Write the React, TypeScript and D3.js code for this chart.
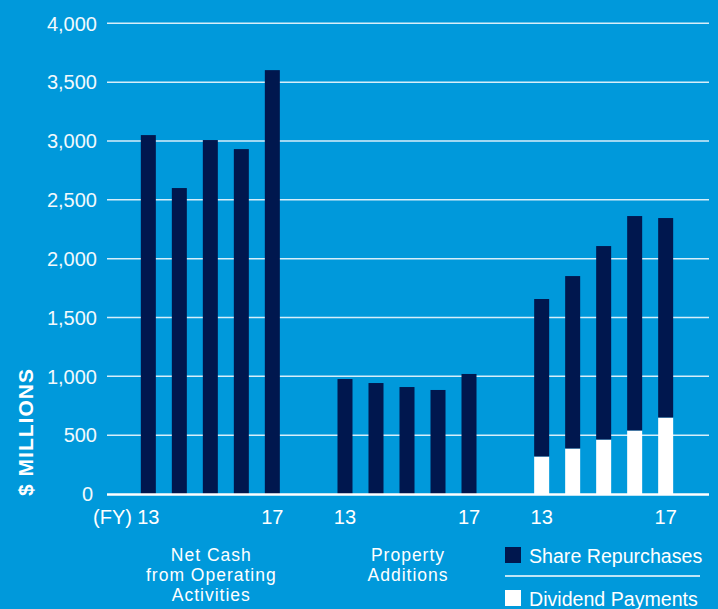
import React from 'react';
import { scaleBand, scaleLinear } from 'd3';

const groups = ['netCash', 'property', 'returns'];
const groupLabels = [['Net Cash', 'from Operating', 'Activities'], ['Property', 'Additions'], []];
const years = ['13', '14', '15', '16', '17'];
const netCash = [3050, 2600, 3008, 2931, 3602];
const propertyAdditions = [977, 943, 909, 884, 1020];
const dividendPayments = [319, 387, 463, 540, 650];
const shareRepurchases = [1338, 1465, 1644, 1822, 1695];
const yTicks = [0, 500, 1000, 1500, 2000, 2500, 3000, 3500, 4000];

const width = 718;
const height = 609;
const bg = '#0099db';
const dark = '#00174e';
const font = '"Liberation Sans", Arial, Helvetica, sans-serif';

const App = () => {
  const yScale = scaleLinear().domain([0, 4000]).range([494, 23.3]);

  const groupScale = scaleBand().domain(groups).range([112, 702]).padding(0);
  const yearScale = scaleBand()
    .domain(years)
    .range([0, groupScale.bandwidth()])
    .paddingInner(0.516)
    .paddingOuter(0.93);

  const bw = yearScale.bandwidth();
  const barX = (g: string, yr: string) => (groupScale(g) as number) + (yearScale(yr) as number);
  const barCx = (g: string, yr: string) => barX(g, yr) + bw / 2;

  const gridX1 = 107;
  const gridX2 = 709;

  return (
    <svg
      width={width}
      height={height}
      style={{ position: 'absolute', left: 0, top: 0, display: 'block' }}
      fontFamily={font}
    >
      <rect x={0} y={0} width={width} height={height} fill={bg} />

      {/* gridlines + y labels */}
      {yTicks.map(t => (
        <g key={t}>
          {t !== 0 && (
            <line x1={gridX1} x2={gridX2} y1={yScale(t)} y2={yScale(t)} stroke="#d6eefa" strokeWidth={1.5} />
          )}
          <text
            x={t === 0 ? 93 : 97}
            y={yScale(t)}
            dy="0.36em"
            textAnchor="end"
            fontSize={20}
            fill="#f2f9fd"
          >
            {t.toLocaleString('en-US')}
          </text>
        </g>
      ))}

      {/* net cash bars */}
      {years.map((yr, i) => (
        <rect key={'nc' + yr} x={barX('netCash', yr)} width={bw} y={yScale(netCash[i])}
          height={yScale(0) - yScale(netCash[i])} fill={dark} />
      ))}

      {/* property additions */}
      {years.map((yr, i) => (
        <rect key={'pa' + yr} x={barX('property', yr)} width={bw} y={yScale(propertyAdditions[i])}
          height={yScale(0) - yScale(propertyAdditions[i])} fill={dark} />
      ))}

      {/* stacked: dividends + repurchases */}
      {years.map((yr, i) => {
        const d = dividendPayments[i];
        const s = shareRepurchases[i];
        return (
          <g key={'rt' + yr}>
            <rect x={barX('returns', yr)} width={bw} y={yScale(d)} height={yScale(0) - yScale(d)} fill="#ffffff" />
            <rect x={barX('returns', yr)} width={bw} y={yScale(d + s)} height={yScale(d) - yScale(d + s)} fill={dark} />
          </g>
        );
      })}

      {/* baseline */}
      <line x1={gridX1} x2={gridX2} y1={yScale(0) + 0.5} y2={yScale(0) + 0.5} stroke="#ffffff" strokeWidth={2.5} />

      {/* x labels */}
      <text x={132} y={524} textAnchor="end" fontSize={20} fill="#ffffff">(FY)</text>
      {groups.map(g => (
        <g key={'xl' + g}>
          <text x={barCx(g, '13')} y={524} textAnchor="middle" fontSize={20} fill="#ffffff">13</text>
          <text x={barCx(g, '17')} y={524} textAnchor="middle" fontSize={20} fill="#ffffff">17</text>
        </g>
      ))}

      {/* group labels */}
      {groups.map((g, gi) =>
        groupLabels[gi].map((l, li) => (
          <text
            key={g + li}
            x={(groupScale(g) as number) + groupScale.bandwidth() / 2 + 1}
            y={560.5 + li * 20}
            textAnchor="middle"
            fontSize={17.5}
            letterSpacing={1}
            fill="#ffffff"
          >
            {l}
          </text>
        ))
      )}

      {/* y title */}
      <text
        transform="translate(33, 432) rotate(-90)"
        textAnchor="middle"
        fontSize={21}
        fontWeight="bold"
        letterSpacing={1}
        fill="#ffffff"
      >
        $ MILLIONS
      </text>

      {/* legend */}
      <rect x={505} y={547} width={16} height={16} fill={dark} />
      <text x={529} y={562.5} fontSize={19.6} fill="#ffffff">Share Repurchases</text>
      <line x1={505} x2={700} y1={576} y2={576} stroke="#ffffff" strokeWidth={1.5} />
      <rect x={505} y={590} width={16} height={16} fill="#ffffff" />
      <text x={529} y={605.5} fontSize={19.6} fill="#ffffff">Dividend Payments</text>
    </svg>
  );
};

export default App;
